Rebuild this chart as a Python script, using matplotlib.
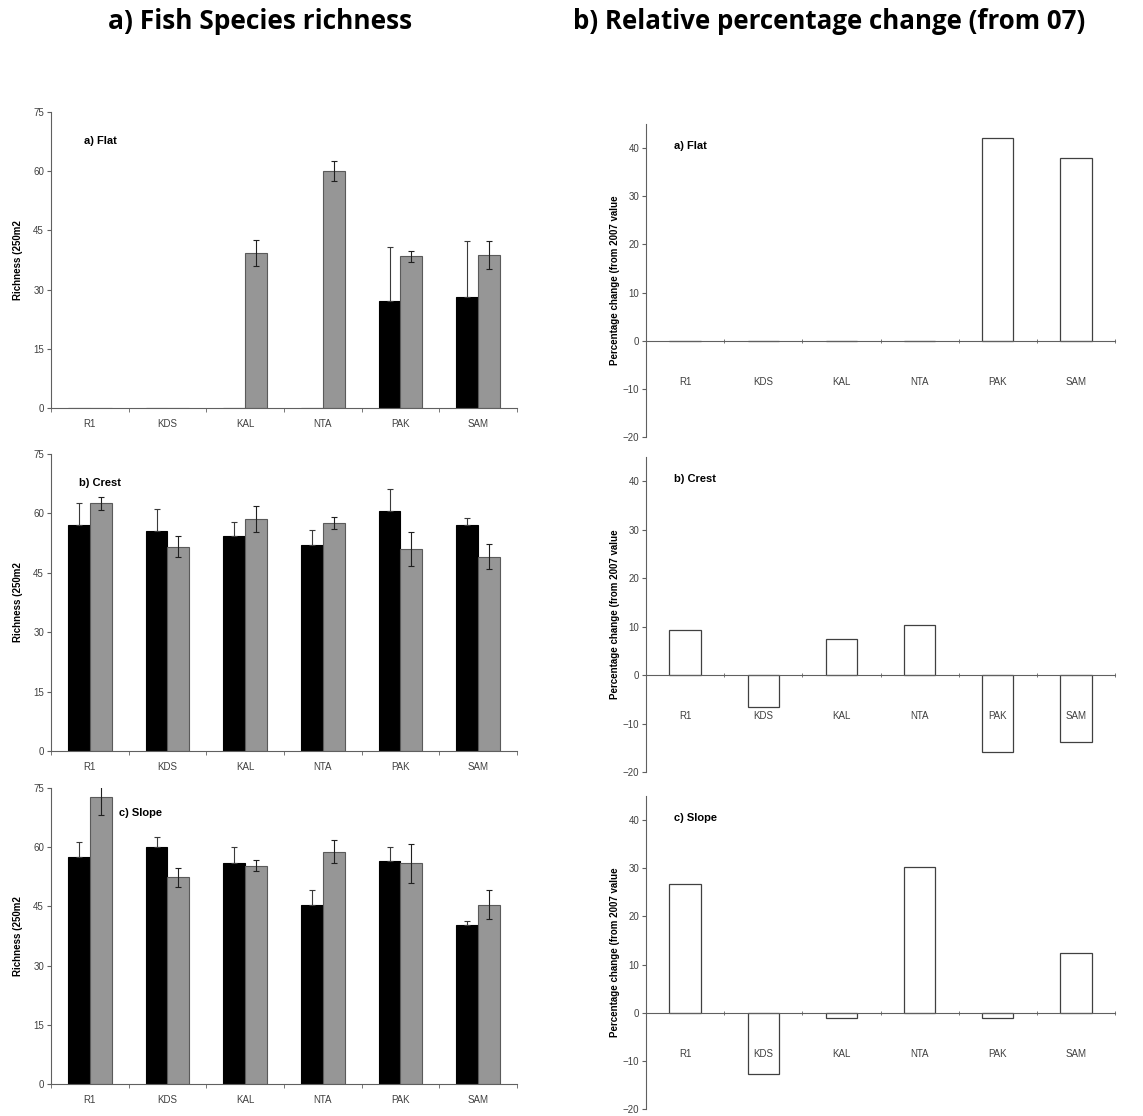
import matplotlib.pyplot as plt
import numpy as np

sites = ["R1", "KDS", "KAL", "NTA", "PAK", "SAM"]
zones = ["a) Flat", "b) Crest", "c) Slope"]

# species richness per 250 m2, 2007 (black) and 2008 (grey), with error
rich_07 = {
    "a) Flat": [0, 0, 0, 0, 27.0, 28.1],
    "b) Crest": [57.1, 55.5, 54.3, 52.1, 60.7, 57.1],
    "c) Slope": [57.4, 60.1, 55.9, 45.4, 56.6, 40.4],
}
err_07 = {
    "a) Flat": [0, 0, 0, 0, 13.7, 14.1],
    "b) Crest": [5.6, 5.5, 3.4, 3.6, 5.5, 1.8],
    "c) Slope": [3.8, 2.6, 4.2, 3.7, 3.5, 0.8],
}
rich_08 = {
    "a) Flat": [0, 0, 39.3, 60.1, 38.4, 38.8],
    "b) Crest": [62.5, 51.6, 58.5, 57.5, 51.1, 49.1],
    "c) Slope": [72.6, 52.4, 55.3, 58.9, 55.9, 45.4],
}
err_08 = {
    "a) Flat": [0, 0, 3.3, 2.5, 1.4, 3.45],
    "b) Crest": [1.7, 2.7, 3.3, 1.5, 4.3, 3.2],
    "c) Slope": [4.5, 2.4, 1.4, 2.9, 4.9, 3.7],
}

# relative change from 2007 (%)
pct_change = {
    "a) Flat": [0, 0, 0, 0, 42.0, 38.0],
    "b) Crest": [9.4, -6.5, 7.4, 10.3, -15.8, -13.9],
    "c) Slope": [26.7, -12.8, -1.1, 30.2, -1.1, 12.4],
}

plt.rcParams["font.family"] = ["Liberation Sans", "DejaVu Sans"]

fig = plt.figure(figsize=(11.43, 11.16), dpi=100)

fig.text(0.2275, 0.981, "a) Fish Species richness", ha="center", va="center",
         fontsize=19, fontweight="bold", family=["Open Sans", "DejaVu Sans"])
fig.text(0.7253, 0.981, "b) Relative percentage change (from 07)", ha="center",
         va="center", fontsize=18.6, fontweight="bold",
         family=["Open Sans", "DejaVu Sans"])

left_pos = [[0.0446, 0.6344, 0.4077, 0.2652],
            [0.0446, 0.3271, 0.4077, 0.2661],
            [0.0446, 0.0287, 0.4077, 0.2652]]
right_pos = [[0.5652, 0.6084, 0.4103, 0.2805],
             [0.5652, 0.3082, 0.4103, 0.2823],
             [0.5652, 0.0065, 0.4103, 0.2800]]
label_y = [67.6, 67.7, 68.6]
label_x = [0.07, 0.06, 0.145]

x = np.arange(len(sites))
w = 0.28
tick_grey = "#404040"

for i, zone in enumerate(zones):
    # left: richness
    ax = fig.add_axes(left_pos[i])
    ax.bar(x - w / 2, rich_07[zone], w, color="black", edgecolor="black",
           linewidth=0.8, zorder=2)
    ax.bar(x + w / 2, rich_08[zone], w, color="#969696", edgecolor="#5a5a5a",
           linewidth=0.8, zorder=2)
    e7 = np.array(err_07[zone])
    e8 = np.array(err_08[zone])
    m7 = e7 > 0
    m8 = e8 > 0
    # 2007 whiskers only show above the black bars
    ax.errorbar((x - w / 2)[m7], np.array(rich_07[zone])[m7],
                yerr=[np.zeros(m7.sum()), e7[m7]],
                fmt="none", ecolor="#3a3a3a", elinewidth=0.8, capsize=2.5,
                capthick=0.8, zorder=3)
    ax.errorbar((x + w / 2)[m8], np.array(rich_08[zone])[m8], yerr=e8[m8],
                fmt="none", ecolor="#202020", elinewidth=0.8, capsize=2.5,
                capthick=0.8, zorder=3)
    ax.set_xlim(-0.5, len(sites) - 0.5)
    ax.set_ylim(0, 75)
    ax.set_yticks(np.arange(0, 76, 15))
    ax.set_xticks(x)
    ax.set_xticklabels(sites)
    ax.set_xticks(np.arange(-0.5, len(sites)), minor=True)
    ax.tick_params(axis="x", which="major", length=0, pad=8,
                   labelsize=7, labelcolor=tick_grey)
    ax.tick_params(axis="x", which="minor", length=3, direction="out",
                   color="#606060")
    ax.tick_params(axis="y", length=3, labelsize=7, labelcolor=tick_grey,
                   color="#606060", pad=2)
    for s in ["top", "right"]:
        ax.spines[s].set_visible(False)
    for s in ["left", "bottom"]:
        ax.spines[s].set_color("#606060")
        ax.spines[s].set_linewidth(0.8)
    ax.set_ylabel("Richness (250m2", fontsize=7, fontweight="bold", labelpad=7)
    ax.text(label_x[i], label_y[i], zone, transform=ax.get_yaxis_transform(),
            fontsize=8, fontweight="bold", va="center")

    # right: percentage change
    ax2 = fig.add_axes(right_pos[i])
    ax2.bar(x, pct_change[zone], 0.4, color="white", edgecolor="#404040",
            linewidth=0.9, zorder=1)
    ax2.set_axisbelow(False)
    ax2.set_xlim(-0.5, len(sites) - 0.5)
    ax2.set_ylim(-20, 45)
    ax2.set_yticks(np.arange(-20, 41, 10))
    ax2.spines["bottom"].set_position(("data", 0))
    ax2.set_xticks(x)
    ax2.set_xticklabels(sites)
    ax2.set_xticks(np.arange(-0.5, len(sites)), minor=True)
    ax2.tick_params(axis="x", which="major", length=0, pad=26,
                    labelsize=7, labelcolor=tick_grey)
    ax2.tick_params(axis="x", which="minor", length=3, direction="inout",
                    color="#606060")
    ax2.tick_params(axis="y", length=3, labelsize=7, labelcolor=tick_grey,
                    color="#606060", pad=2)
    for s in ["top", "right"]:
        ax2.spines[s].set_visible(False)
    for s in ["left", "bottom"]:
        ax2.spines[s].set_color("#606060")
        ax2.spines[s].set_linewidth(0.8)
    ax2.set_ylabel("Percentage change (from 2007 value", fontsize=7,
                   fontweight="bold", labelpad=2)
    ax2.text(0.06, 40.5, zone, transform=ax2.get_yaxis_transform(),
             fontsize=8, fontweight="bold", va="center")

fig.savefig("out.png", dpi=100)
